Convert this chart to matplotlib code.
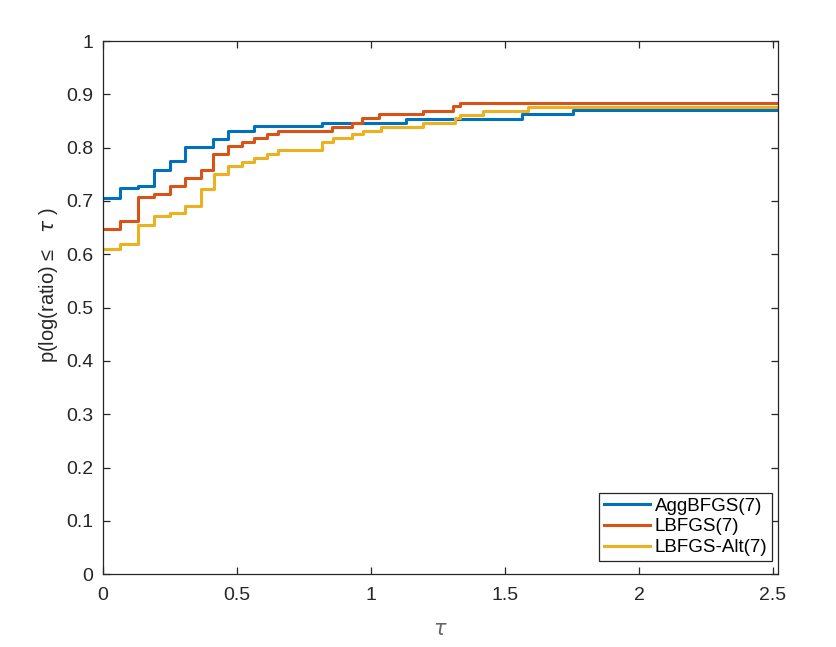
import matplotlib
matplotlib.use('Agg')
import matplotlib.pyplot as plt
import numpy as np

plt.rcParams['font.family'] = ['Liberation Sans', 'DejaVu Sans']
plt.rcParams['mathtext.fontset'] = 'dejavusans'

# performance profile data (tau where a step happens, level after it)
tau_agg = [0, 0.063, 0.132, 0.191, 0.250, 0.306, 0.412, 0.465, 0.565, 0.816, 1.131, 1.565, 1.755]
p_agg = [0.706, 0.724, 0.728, 0.759, 0.775, 0.802, 0.817, 0.831, 0.840, 0.847, 0.854, 0.863, 0.870]

tau_lbfgs = [0, 0.063, 0.129, 0.191, 0.250, 0.306, 0.364, 0.412, 0.465, 0.518, 0.565, 0.611,
             0.654, 0.853, 0.928, 0.966, 1.031, 1.193, 1.307, 1.332]
p_lbfgs = [0.647, 0.663, 0.707, 0.713, 0.729, 0.743, 0.758, 0.788, 0.803, 0.810, 0.818, 0.826,
           0.832, 0.839, 0.847, 0.855, 0.863, 0.869, 0.878, 0.884]

tau_alt = [0, 0.063, 0.129, 0.191, 0.250, 0.306, 0.364, 0.415, 0.465, 0.518, 0.565, 0.611,
           0.654, 0.816, 0.859, 0.928, 0.971, 1.036, 1.193, 1.313, 1.332, 1.417, 1.587]
p_alt = [0.610, 0.619, 0.655, 0.672, 0.677, 0.690, 0.722, 0.751, 0.766, 0.774, 0.780, 0.788,
         0.796, 0.810, 0.818, 0.826, 0.832, 0.839, 0.847, 0.855, 0.861, 0.869, 0.877]

names = ['AggBFGS(7)', 'LBFGS(7)', 'LBFGS-Alt(7)']
colors = ['#0072BD', '#D95319', '#EDB120']
tau_max = 2.52

fig = plt.figure(figsize=(8.37, 6.47), dpi=100)
ax = fig.add_axes([0.123, 0.1124, 0.807, 0.8242])

for t, p, c, n in zip([tau_agg, tau_lbfgs, tau_alt], [p_agg, p_lbfgs, p_alt], colors, names):
    x = list(t) + [tau_max]
    y = list(p) + [p[-1]]
    ax.step(x, y, where='post', color=c, linewidth=2.2, label=n)

ax.set_xlim(0, tau_max)
ax.set_ylim(0, 1)
ax.set_xticks([0, 0.5, 1, 1.5, 2, 2.5])
ax.set_xticklabels(['0', '0.5', '1', '1.5', '2', '2.5'])
ax.set_yticks(np.arange(0, 1.01, 0.1))
ax.set_yticklabels(['0', '0.1', '0.2', '0.3', '0.4', '0.5', '0.6', '0.7', '0.8', '0.9', '1'])

axcol = '#262626'
for s in ax.spines.values():
    s.set_color(axcol)
    s.set_linewidth(0.9)
ax.tick_params(direction='in', top=True, right=True, length=5, width=0.9,
               colors=axcol, labelsize=14)
ax.tick_params(axis='x', pad=9)
ax.tick_params(axis='y', pad=7)

ax.set_xlabel(r'$\tau$', fontsize=15, color='#666666', labelpad=12)
ax.set_ylabel('p(log(ratio) \u2264   $\\tau$ )', fontsize=14.5, color='#262626')
ax.yaxis.set_label_coords(-0.064, 0.542)

leg = ax.legend(loc='lower right', bbox_to_anchor=(0.9906, 0.025), fontsize=13.5,
                handlelength=2.45, handletextpad=0.27, labelspacing=0.2,
                borderpad=0.25, borderaxespad=0, fancybox=False, framealpha=1)
leg.get_frame().set_edgecolor(axcol)
leg.get_frame().set_linewidth(0.9)

fig.savefig('out.png', dpi=100)
